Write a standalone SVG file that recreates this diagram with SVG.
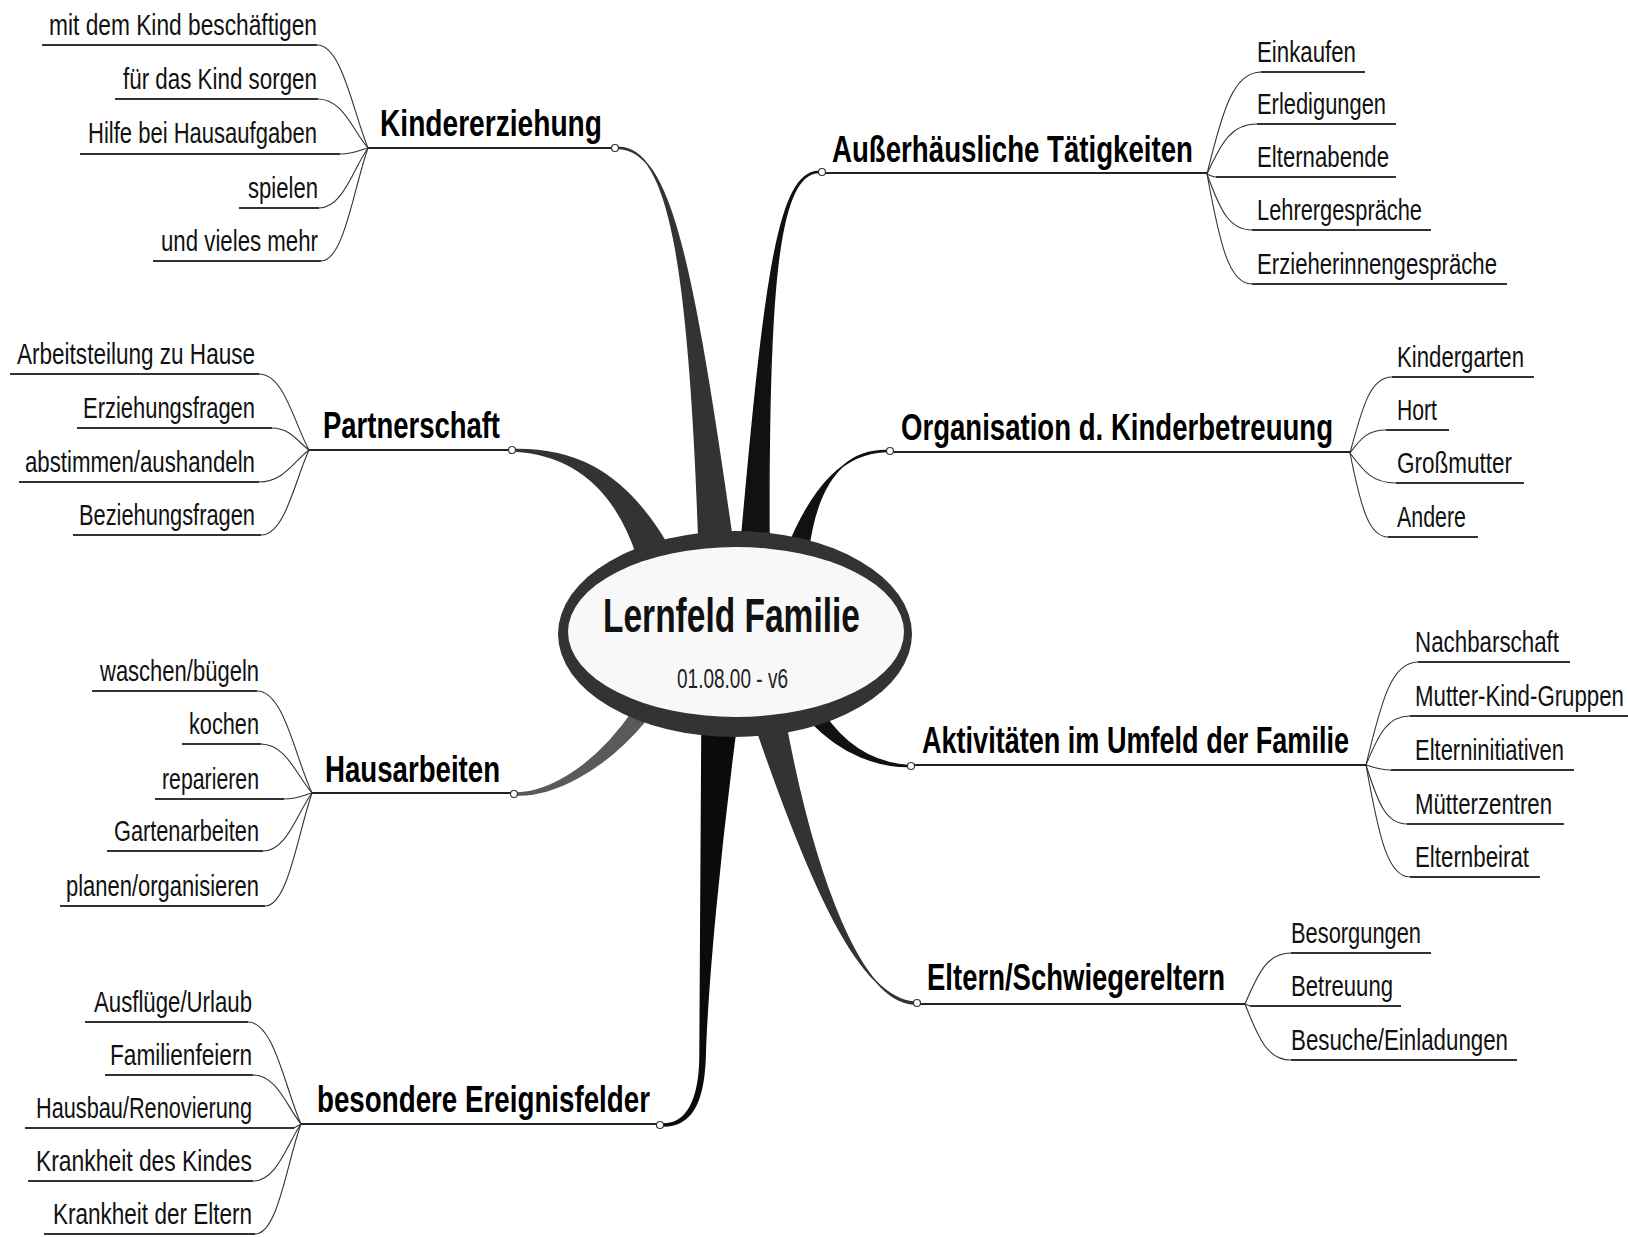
<svg xmlns="http://www.w3.org/2000/svg" width="1628" height="1237" viewBox="0 0 1628 1237">
<style>
.sub{font-family:"Liberation Sans",Arial,sans-serif;font-size:30px;fill:#111}
.main{font-family:"Liberation Sans",Arial,sans-serif;font-size:36px;font-weight:bold;fill:#000}
.ul{stroke:#333;stroke-width:2;fill:none}
.mul{stroke:#222;stroke-width:2;fill:none}
.cv{stroke:#333;stroke-width:1.1;fill:none}
.dot{fill:#fff;stroke:#333;stroke-width:1.2}
.b1{fill:#333;stroke:#333;stroke-width:1.5;stroke-linejoin:round}
.b2{fill:#111;stroke:#111;stroke-width:1.5;stroke-linejoin:round}
.b3{fill:#5a5a5a;stroke:#5a5a5a;stroke-width:1.5;stroke-linejoin:round}
.b4{fill:#0b0b0b;stroke:#0b0b0b;stroke-width:1.5;stroke-linejoin:round}
</style>
<rect width="1628" height="1237" fill="#fff"/>
<g id="connectors">
  <!-- tapered main branches -->
  <path class="b1" d="M619,147.5 C668,147.5 689.5,260 699,545 L733,545 C692.5,260 670,150.5 619,148.5 Z"/>
  <path class="b2" d="M819,171.5 C778,171 764.5,280 741,545 L769,545 C767.5,280 779,173 819,172.5 Z"/>
  <path class="b2" d="M887,450.5 C845,450 817,481 808,552 L786,552 C813,484 845,452 887,451.5 Z"/>
  <path class="b1" d="M515,449.5 C565,449 620,463 668,546 L638,558 C612,477 563,454 515,451 Z"/>
  <path class="b3" d="M517,793 C550,792 596,766 634,710 L646,720 C601,774 550,796 517,795 Z"/>
  <path class="b4" d="M663,1124 C688,1124 699,1098 700,1060 L702,728 L736,728 C720,850 707,985 705,1060 C703,1105 690,1126 663,1126 Z"/>
  <path class="b1" d="M914,1002 C859,998.5 809,881 757,730 L786,726 C815,879 861,1001.5 914,1004 Z"/>
  <path class="b2" d="M908,765.5 C878,763.5 847,749 823,713 L811,722 C843,755 878,766.5 908,766.5 Z"/>
  <!-- child curves: Kindererziehung -->
  <path class="cv" d="M317,45 C342,45 353,112 368,148"/>
  <path class="cv" d="M318,99 C343,99 353,131 368,148"/>
  <path class="cv" d="M340,154 C354,154 360,150 368,148"/>
  <path class="cv" d="M319,208 C343,208 353,169 368,148"/>
  <path class="cv" d="M321,261 C344,261 354,187 368,148"/>
  <!-- Partnerschaft -->
  <path class="cv" d="M259,374 C284,374 294,423 309,450"/>
  <path class="cv" d="M272,428 C290,428 298,442 309,450"/>
  <path class="cv" d="M259,482 C284,482 294,461 309,450"/>
  <path class="cv" d="M261,535 C285,535 295,480 309,450"/>
  <!-- Hausarbeiten -->
  <path class="cv" d="M257,691 C284,691 295,757 312,793"/>
  <path class="cv" d="M261,744 C286,744 297,776 312,793"/>
  <path class="cv" d="M284,799 C298,799 304,795 312,793"/>
  <path class="cv" d="M263,851 C287,851 297,813 312,793"/>
  <path class="cv" d="M265,906 C288,906 298,833 312,793"/>
  <!-- besondere Ereignisfelder -->
  <path class="cv" d="M248,1022 C274,1022 285,1088 301,1124"/>
  <path class="cv" d="M253,1075 C277,1075 287,1107 301,1124"/>
  <path class="cv" d="M294,1128 L301,1124"/>
  <path class="cv" d="M253,1181 C277,1181 287,1144 301,1124"/>
  <path class="cv" d="M255,1234 C278,1234 287,1162 301,1124"/>
  <!-- Außerhäusliche Tätigkeiten -->
  <path class="cv" d="M1207,174 C1223,108 1234,72 1261,72"/>
  <path class="cv" d="M1207,174 C1222,141 1232,124 1257,124"/>
  <path class="cv" d="M1207,174 C1211,176 1213,177 1216,177"/>
  <path class="cv" d="M1207,174 C1220,210 1229,230 1252,230"/>
  <path class="cv" d="M1207,174 C1220,245 1229,284 1252,284"/>
  <!-- Organisation -->
  <path class="cv" d="M1350,453 C1363,404 1371,377 1392,377"/>
  <path class="cv" d="M1350,453 C1361,438 1368,430 1386,430"/>
  <path class="cv" d="M1350,453 C1364,472 1373,483 1396,483"/>
  <path class="cv" d="M1350,453 C1361,508 1369,537 1388,537"/>
  <!-- Aktivitäten -->
  <path class="cv" d="M1366,765 C1382,698 1392,662 1418,662"/>
  <path class="cv" d="M1366,765 C1379,733 1388,716 1410,716"/>
  <path class="cv" d="M1366,765 C1375,768 1382,770 1391,770"/>
  <path class="cv" d="M1366,765 C1378,803 1386,824 1407,824"/>
  <path class="cv" d="M1366,765 C1379,838 1388,877 1410,877"/>
  <!-- Eltern -->
  <path class="cv" d="M1245,1004 C1259,971 1268,953 1291,953"/>
  <path class="cv" d="M1245,1004 L1250,1006"/>
  <path class="cv" d="M1245,1004 C1259,1040 1268,1060 1291,1060"/>
</g>

<g id="center">
  <ellipse cx="735" cy="634" rx="177" ry="103" fill="#333"/>
  <ellipse cx="736" cy="632" rx="168" ry="85" fill="#f8f8f8"/>
  <text x="603" y="632" font-family="Liberation Sans, Arial, sans-serif" font-size="49" font-weight="bold" fill="#111" textLength="257" lengthAdjust="spacingAndGlyphs">Lernfeld Familie</text>
  <text x="677" y="688" font-family="Liberation Sans, Arial, sans-serif" font-size="28" fill="#222" textLength="111" lengthAdjust="spacingAndGlyphs">01.08.00 - v6</text>
</g>

<g id="kindererziehung">
  <text class="main" x="380" y="136" textLength="222" lengthAdjust="spacingAndGlyphs">Kindererziehung</text>
  <path class="mul" d="M368,148 H612"/>
  <circle class="dot" cx="615" cy="148" r="3.5"/>
</g>
<g id="k1"><text class="sub" x="49" y="35" textLength="268" lengthAdjust="spacingAndGlyphs">mit dem Kind beschäftigen</text><path class="ul" d="M42,45 H317"/></g>
<g id="k2"><text class="sub" x="123" y="89" textLength="194" lengthAdjust="spacingAndGlyphs">für das Kind sorgen</text><path class="ul" d="M115,99 H318"/></g>
<g id="k3"><text class="sub" x="88" y="143" textLength="229" lengthAdjust="spacingAndGlyphs">Hilfe bei Hausaufgaben</text><path class="ul" d="M80,154 H340"/></g>
<g id="k4"><text class="sub" x="248" y="198" textLength="70" lengthAdjust="spacingAndGlyphs">spielen</text><path class="ul" d="M239,208 H319"/></g>
<g id="k5"><text class="sub" x="161" y="251" textLength="157" lengthAdjust="spacingAndGlyphs">und vieles mehr</text><path class="ul" d="M153,261 H321"/></g>

<g id="partnerschaft">
  <text class="main" x="323" y="438" textLength="177" lengthAdjust="spacingAndGlyphs">Partnerschaft</text>
  <path class="mul" d="M309,450 H509"/>
  <circle class="dot" cx="512" cy="450" r="3.5"/>
</g>
<g id="p1"><text class="sub" x="17" y="364" textLength="238" lengthAdjust="spacingAndGlyphs">Arbeitsteilung zu Hause</text><path class="ul" d="M10,374 H259"/></g>
<g id="p2"><text class="sub" x="83" y="418" textLength="172" lengthAdjust="spacingAndGlyphs">Erziehungsfragen</text><path class="ul" d="M77,428 H272"/></g>
<g id="p3"><text class="sub" x="25" y="472" textLength="230" lengthAdjust="spacingAndGlyphs">abstimmen/aushandeln</text><path class="ul" d="M19,482 H259"/></g>
<g id="p4"><text class="sub" x="79" y="525" textLength="176" lengthAdjust="spacingAndGlyphs">Beziehungsfragen</text><path class="ul" d="M73,535 H261"/></g>

<g id="hausarbeiten">
  <text class="main" x="325" y="782" textLength="175" lengthAdjust="spacingAndGlyphs">Hausarbeiten</text>
  <path class="mul" d="M312,793 H511"/>
  <circle class="dot" cx="514" cy="794" r="3.5"/>
</g>
<g id="h1"><text class="sub" x="100" y="681" textLength="159" lengthAdjust="spacingAndGlyphs">waschen/bügeln</text><path class="ul" d="M92,691 H257"/></g>
<g id="h2"><text class="sub" x="189" y="734" textLength="70" lengthAdjust="spacingAndGlyphs">kochen</text><path class="ul" d="M182,744 H261"/></g>
<g id="h3"><text class="sub" x="162" y="789" textLength="97" lengthAdjust="spacingAndGlyphs">reparieren</text><path class="ul" d="M155,799 H284"/></g>
<g id="h4"><text class="sub" x="114" y="841" textLength="145" lengthAdjust="spacingAndGlyphs">Gartenarbeiten</text><path class="ul" d="M107,851 H263"/></g>
<g id="h5"><text class="sub" x="66" y="896" textLength="193" lengthAdjust="spacingAndGlyphs">planen/organisieren</text><path class="ul" d="M60,906 H265"/></g>

<g id="besondere">
  <text class="main" x="317" y="1112" textLength="333" lengthAdjust="spacingAndGlyphs">besondere Ereignisfelder</text>
  <path class="mul" d="M301,1124 H657"/>
  <circle class="dot" cx="660" cy="1125" r="3.5"/>
</g>
<g id="e1"><text class="sub" x="94" y="1012" textLength="158" lengthAdjust="spacingAndGlyphs">Ausflüge/Urlaub</text><path class="ul" d="M85,1022 H248"/></g>
<g id="e2"><text class="sub" x="110" y="1065" textLength="142" lengthAdjust="spacingAndGlyphs">Familienfeiern</text><path class="ul" d="M105,1075 H253"/></g>
<g id="e3"><text class="sub" x="36" y="1118" textLength="216" lengthAdjust="spacingAndGlyphs">Hausbau/Renovierung</text><path class="ul" d="M25,1128 H294"/></g>
<g id="e4"><text class="sub" x="36" y="1171" textLength="216" lengthAdjust="spacingAndGlyphs">Krankheit des Kindes</text><path class="ul" d="M28,1181 H253"/></g>
<g id="e5"><text class="sub" x="53" y="1224" textLength="199" lengthAdjust="spacingAndGlyphs">Krankheit der Eltern</text><path class="ul" d="M44,1234 H255"/></g>

<g id="ausserhaeusliche">
  <text class="main" x="832" y="162" textLength="361" lengthAdjust="spacingAndGlyphs">Außerhäusliche Tätigkeiten</text>
  <path class="mul" d="M825,173 H1207"/>
  <circle class="dot" cx="822" cy="172" r="3.5"/>
</g>
<g id="a1"><text class="sub" x="1257" y="62" textLength="99" lengthAdjust="spacingAndGlyphs">Einkaufen</text><path class="ul" d="M1261,72 H1365"/></g>
<g id="a2"><text class="sub" x="1257" y="114" textLength="129" lengthAdjust="spacingAndGlyphs">Erledigungen</text><path class="ul" d="M1257,124 H1396"/></g>
<g id="a3"><text class="sub" x="1257" y="167" textLength="132" lengthAdjust="spacingAndGlyphs">Elternabende</text><path class="ul" d="M1216,177 H1396"/></g>
<g id="a4"><text class="sub" x="1257" y="220" textLength="165" lengthAdjust="spacingAndGlyphs">Lehrergespräche</text><path class="ul" d="M1252,230 H1431"/></g>
<g id="a5"><text class="sub" x="1257" y="274" textLength="240" lengthAdjust="spacingAndGlyphs">Erzieherinnengespräche</text><path class="ul" d="M1252,284 H1507"/></g>

<g id="organisation">
  <text class="main" x="901" y="440" textLength="432" lengthAdjust="spacingAndGlyphs">Organisation d. Kinderbetreuung</text>
  <path class="mul" d="M893,452 H1350"/>
  <circle class="dot" cx="890" cy="451" r="3.5"/>
</g>
<g id="o1"><text class="sub" x="1397" y="367" textLength="127" lengthAdjust="spacingAndGlyphs">Kindergarten</text><path class="ul" d="M1392,377 H1534"/></g>
<g id="o2"><text class="sub" x="1397" y="420" textLength="40" lengthAdjust="spacingAndGlyphs">Hort</text><path class="ul" d="M1386,430 H1449"/></g>
<g id="o3"><text class="sub" x="1397" y="473" textLength="115" lengthAdjust="spacingAndGlyphs">Großmutter</text><path class="ul" d="M1396,483 H1524"/></g>
<g id="o4"><text class="sub" x="1397" y="527" textLength="69" lengthAdjust="spacingAndGlyphs">Andere</text><path class="ul" d="M1388,537 H1478"/></g>

<g id="aktivitaeten">
  <text class="main" x="922" y="753" textLength="427" lengthAdjust="spacingAndGlyphs">Aktivitäten im Umfeld der Familie</text>
  <path class="mul" d="M914,765 H1366"/>
  <circle class="dot" cx="911" cy="766" r="3.5"/>
</g>
<g id="u1"><text class="sub" x="1415" y="652" textLength="144" lengthAdjust="spacingAndGlyphs">Nachbarschaft</text><path class="ul" d="M1418,662 H1570"/></g>
<g id="u2"><text class="sub" x="1415" y="706" textLength="209" lengthAdjust="spacingAndGlyphs">Mutter-Kind-Gruppen</text><path class="ul" d="M1410,716 H1628"/></g>
<g id="u3"><text class="sub" x="1415" y="760" textLength="149" lengthAdjust="spacingAndGlyphs">Elterninitiativen</text><path class="ul" d="M1391,770 H1574"/></g>
<g id="u4"><text class="sub" x="1415" y="814" textLength="137" lengthAdjust="spacingAndGlyphs">Mütterzentren</text><path class="ul" d="M1407,824 H1564"/></g>
<g id="u5"><text class="sub" x="1415" y="867" textLength="114" lengthAdjust="spacingAndGlyphs">Elternbeirat</text><path class="ul" d="M1410,877 H1540"/></g>

<g id="eltern">
  <text class="main" x="927" y="990" textLength="298" lengthAdjust="spacingAndGlyphs">Eltern/Schwiegereltern</text>
  <path class="mul" d="M920,1004 H1245"/>
  <circle class="dot" cx="917" cy="1003" r="3.5"/>
</g>
<g id="s1"><text class="sub" x="1291" y="943" textLength="130" lengthAdjust="spacingAndGlyphs">Besorgungen</text><path class="ul" d="M1291,953 H1431"/></g>
<g id="s2"><text class="sub" x="1291" y="996" textLength="102" lengthAdjust="spacingAndGlyphs">Betreuung</text><path class="ul" d="M1250,1006 H1401"/></g>
<g id="s3"><text class="sub" x="1291" y="1050" textLength="217" lengthAdjust="spacingAndGlyphs">Besuche/Einladungen</text><path class="ul" d="M1291,1060 H1517"/></g>
</svg>
